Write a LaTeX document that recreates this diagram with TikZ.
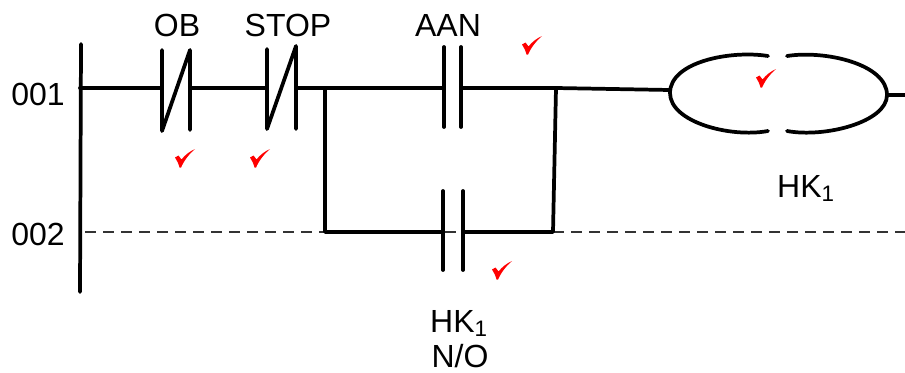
\documentclass[tikz,border=0pt]{standalone}
\usepackage{fontspec}
\setmainfont{Liberation Sans}
\tikzset{
  wire/.style={line width=2.8pt,line cap=round,line join=round,black},
  guide/.style={line width=0.8pt,dash pattern=on 8.5pt off 5pt,black!80},
  lbl/.style={inner sep=0pt,font=\fontsize{24pt}{28pt}\selectfont,text=black},
  tick/.pic={\fill[red] (0,7.5) -- (3.5,5.5) -- (6.5,9.5) .. controls (10,5) and (14.5,1.5) .. (20,-1) .. controls (14,4) and (9.5,10) .. (6,17.5) -- (4.5,17.5) .. controls (3.5,13.5) and (2,10.5) .. (0,7.5) -- cycle;}
}
\begin{document}
\begin{tikzpicture}[x=0.75pt,y=-0.75pt]
\useasboundingbox (0,0) rectangle (905,372);
% named points
\coordinate (busT) at (81,44); \coordinate (busB) at (80,292);
\coordinate (a1) at (80,88);
\coordinate (obLT) at (162,50); \coordinate (obLB) at (162,131); \coordinate (obLM) at (162,88);
\coordinate (obRT) at (190,50); \coordinate (obRB) at (190,130); \coordinate (obRM) at (190,88);
\coordinate (stLT) at (267,49); \coordinate (stLB) at (267,129); \coordinate (stLM) at (267,88);
\coordinate (stRT) at (296,46); \coordinate (stRB) at (296,129); \coordinate (stRM) at (296,88);
\coordinate (jL) at (325,88); \coordinate (jLB) at (325,232);
\coordinate (aaLT) at (444,47); \coordinate (aaLB) at (444,127); \coordinate (aaLM) at (444,88);
\coordinate (aaRT) at (461,47); \coordinate (aaRB) at (461,127); \coordinate (aaRM) at (461,88);
\coordinate (jR) at (556,88); \coordinate (jRB) at (553,232);
\coordinate (hkLT) at (443,191); \coordinate (hkLB) at (443,270); \coordinate (hkLM) at (443,232);
\coordinate (hkRT) at (463,191); \coordinate (hkRB) at (463,270); \coordinate (hkRM) at (463,232);
\coordinate (cL) at (670,90); \coordinate (cR) at (887,95); \coordinate (cEnd) at (905,95);
\coordinate (g1) at (85,232); \coordinate (g2) at (905,232);
% dashed rung
\draw[guide] (g1) -- (g2);
% bus
\draw[wire] (busT) -- (busB);
% rung 001
\draw[wire] (a1) -- (obLM);
\draw[wire] (obRM) -- (stLM);
\draw[wire] (stRM) -- (aaLM);
\draw[wire] (aaRM) -- (jR) -- (cL);
\draw[wire] (cR) -- (cEnd);
% branch
\draw[wire] (jL) -- (jLB) -- (hkLM);
\draw[wire] (hkRM) -- (jRB) -- (jR);
% contacts
\draw[wire] (obLT) -- (obLB) -- (obRT) -- (obRB);
\draw[wire] (stLT) -- (stLB) -- (stRT) -- (stRB);
\draw[wire] (aaLT) -- (aaLB);
\draw[wire] (aaRT) -- (aaRB);
\draw[wire] (hkLT) -- (hkLB);
\draw[wire] (hkRT) -- (hkRB);
% coil
\draw[wire] (768,56) .. controls (730,50) and (670,62) .. (670,93) .. controls (670,122) and (730,138) .. (768,131);
\draw[wire] (787,56) .. controls (825,50) and (887,64) .. (887,95) .. controls (887,122) and (825,138) .. (787,131);
% labels
\node[lbl] (ob) at (177,25) {OB};
\node[lbl] (stop) at (288,25) {STOP};
\node[lbl] (aan) at (448,25) {AAN};
\node[lbl] (r1) at (38,94) {001};
\node[lbl] (r2) at (38,234) {002};
\node[lbl,anchor=base] (hka) at (806,197) {HK\textsubscript{1}};
\node[lbl,anchor=base] (hkb) at (459,332) {HK\textsubscript{1}};
\node[lbl,anchor=base] (no) at (460,367) {N/O};
% ticks
\pic at (175,150) {tick};
\pic at (250,150) {tick};
\pic at (756,70) {tick};
\pic at (522,37) {tick};
\pic at (492,262) {tick};
\end{tikzpicture}
\end{document}
